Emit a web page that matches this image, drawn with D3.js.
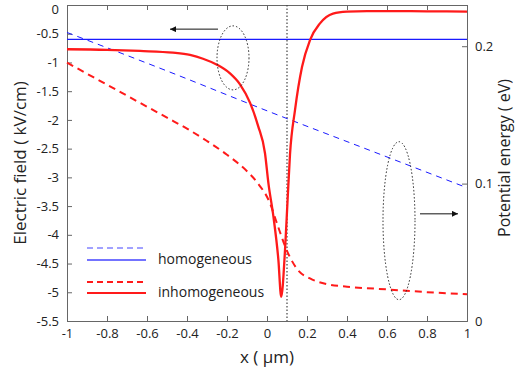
<!DOCTYPE html>
<html>
<head>
<meta charset="utf-8">
<script src="https://cdn.jsdelivr.net/npm/d3@7"></script>
<style>
  body { margin: 0; background: #fff; }
  svg text { font-family: "Open Sans", sans-serif; fill: #222; }
</style>
</head>
<body>
<svg width="516" height="376"></svg>
<script>
// data
var xTicks = [-1, -0.8, -0.6, -0.4, -0.2, 0, 0.2, 0.4, 0.6, 0.8, 1];
var leftTicks = [0, -0.5, -1, -1.5, -2, -2.5, -3, -3.5, -4, -4.5, -5, -5.5];
var rightTicks = [0, 0.1, 0.2];

// electric field (left axis), solid lines
var homField = [[-1, -0.6], [1, -0.6]];
var inhomField = [[-1, -0.77], [-0.8, -0.78], [-0.635, -0.8], [-0.47, -0.83], [-0.385, -0.87], [-0.32, -0.935],
  [-0.25, -1.04], [-0.185, -1.19], [-0.135, -1.38], [-0.085, -1.7], [-0.045, -2.1], [-0.01, -2.58],
  [0.007, -3.1], [0.032, -3.68], [0.057, -4.44], [0.071, -5.08], [0.09, -4.27], [0.103, -3.39],
  [0.115, -2.6], [0.14, -1.83], [0.175, -1.08], [0.215, -0.61], [0.265, -0.32], [0.33, -0.15],
  [0.4, -0.115], [0.5, -0.105], [0.6, -0.105], [0.8, -0.11], [1, -0.115]];

// potential energy (right axis), dashed lines
var homEnergy = [[-1, 0.21], [-0.5, 0.182], [0, 0.153], [0.5, 0.125], [1, 0.097]];
var inhomEnergy = [[-1, 0.188], [-0.9, 0.18], [-0.8, 0.172], [-0.7, 0.164], [-0.6, 0.156], [-0.5, 0.148],
  [-0.4, 0.14], [-0.3, 0.131], [-0.2, 0.121], [-0.1, 0.109], [-0.05, 0.101], [0.015, 0.0857], [0.05, 0.071],
  [0.098, 0.0517], [0.155, 0.037], [0.215, 0.031], [0.3, 0.0268], [0.4, 0.025], [0.6, 0.023], [0.8, 0.021], [1, 0.0195]];

var margin = {top: 5, right: 49, bottom: 55, left: 67},
    width = 516 - margin.left - margin.right,
    height = 376 - margin.top - margin.bottom;

var svg = d3.select("svg")
  .append("g")
  .attr("transform", "translate(" + margin.left + "," + margin.top + ")");

var x = d3.scaleLinear().domain([-1, 1]).range([0, width]);
var yL = d3.scaleLinear().domain([-5.5, 0]).range([height, 0]);
var yR = d3.scaleLinear().domain([0, 0.23]).range([height, 0]);

var axisColor = "#666";
// plain hyphen for minus, like the original
var fmt = function(d) { return String(+d.toFixed(2)); };

// axes, ticks pointing inward
var gx = svg.append("g").attr("transform", "translate(0," + height + ")")
  .call(d3.axisBottom(x).tickValues(xTicks).tickSize(-5).tickPadding(8).tickFormat(fmt));
var gxTop = svg.append("g")
  .call(d3.axisTop(x).tickValues(xTicks).tickSize(-5).tickFormat(""));
var gl = svg.append("g")
  .call(d3.axisLeft(yL).tickValues(leftTicks).tickSize(-5).tickPadding(8).tickFormat(fmt));
var gr = svg.append("g").attr("transform", "translate(" + width + ",0)")
  .call(d3.axisRight(yR).tickValues(rightTicks).tickSize(-5).tickPadding(8).tickFormat(fmt));

[gx, gxTop, gl, gr].forEach(function(g) {
  g.select(".domain").attr("stroke", axisColor);
  g.selectAll(".tick line").attr("stroke", axisColor);
  g.selectAll("text").style("font-size", "13px");
});
gl.select(".tick text").attr("dy", "0.62em");

// vertical dotted line at x = 0.1
svg.append("line")
  .attr("x1", x(0.1)).attr("x2", x(0.1))
  .attr("y1", 0).attr("y2", height)
  .attr("stroke", "#444").attr("stroke-width", 1.2)
  .attr("stroke-dasharray", "1.5,2");

var lineL = d3.line().x(function(d) { return x(d[0]); }).y(function(d) { return yL(d[1]); }).curve(d3.curveMonotoneX);
var lineR = d3.line().x(function(d) { return x(d[0]); }).y(function(d) { return yR(d[1]); }).curve(d3.curveMonotoneX);

svg.append("path").datum(homEnergy).attr("d", lineR)
  .attr("fill", "none").attr("stroke", "#1a1aff").attr("stroke-width", 1).attr("stroke-dasharray", "6,5");
svg.append("path").datum(homField).attr("d", lineL)
  .attr("fill", "none").attr("stroke", "#1a1aff").attr("stroke-width", 1.3);
svg.append("path").datum(inhomEnergy).attr("d", lineR)
  .attr("fill", "none").attr("stroke", "#ff1a1a").attr("stroke-width", 2).attr("stroke-dasharray", "7,5");
svg.append("path").datum(inhomField).attr("d", lineL)
  .attr("fill", "none").attr("stroke", "#ff1a1a").attr("stroke-width", 2.3);

// ellipses and arrows
svg.append("ellipse")
  .attr("cx", x(-0.17)).attr("cy", yL(-0.92)).attr("rx", 16).attr("ry", 32)
  .attr("fill", "none").attr("stroke", "#222").attr("stroke-dasharray", "1.5,2");
svg.append("ellipse")
  .attr("cx", x(0.66)).attr("cy", yR(0.073)).attr("rx", 16).attr("ry", 79)
  .attr("fill", "none").attr("stroke", "#222").attr("stroke-dasharray", "1.5,2");

svg.append("defs").append("marker")
  .attr("id", "ah").attr("viewBox", "0 0 10 10").attr("refX", 10).attr("refY", 5)
  .attr("markerWidth", 9).attr("markerHeight", 6).attr("orient", "auto")
  .append("path").attr("d", "M0,0L10,5L0,10z").attr("fill", "#111");

svg.append("line")
  .attr("x1", x(-0.245)).attr("x2", x(-0.485)).attr("y1", yL(-0.42)).attr("y2", yL(-0.42))
  .attr("stroke", "#111").attr("stroke-width", 1).attr("marker-end", "url(#ah)");
svg.append("line")
  .attr("x1", x(0.765)).attr("x2", x(0.955)).attr("y1", yR(0.078)).attr("y2", yR(0.078))
  .attr("stroke", "#111").attr("stroke-width", 1).attr("marker-end", "url(#ah)");

// legend
var legend = [
  {y: 243, color: "#4444ff", dash: "6,4", w: 1.2},
  {y: 255, color: "#4444ff", dash: null, w: 1.5, label: "homogeneous"},
  {y: 277, color: "#ff1a1a", dash: "6,4", w: 2},
  {y: 288, color: "#ff1a1a", dash: null, w: 2, label: "inhomogeneous"}
];
legend.forEach(function(d) {
  svg.append("line").attr("x1", 20).attr("x2", 79).attr("y1", d.y).attr("y2", d.y)
    .attr("stroke", d.color).attr("stroke-width", d.w).attr("stroke-dasharray", d.dash);
  if (d.label) {
    svg.append("text").attr("x", 91).attr("y", d.y - 1).attr("dy", "0.35em")
      .style("font-size", "14px").text(d.label);
  }
});

// axis titles
svg.append("text")
  .attr("transform", "translate(" + (-47) + "," + (height / 2) + ") rotate(-90)")
  .attr("text-anchor", "middle").attr("dy", "0.35em")
  .style("font-size", "17px").text("Electric field ( kV/cm)");
svg.append("text")
  .attr("transform", "translate(" + (width + 37) + "," + (height / 2 - 5) + ") rotate(-90)")
  .attr("text-anchor", "middle").attr("dy", "0.35em")
  .style("font-size", "16px").text("Potential energy ( eV)");
svg.append("text")
  .attr("x", width / 2).attr("y", height + 36).attr("text-anchor", "middle").attr("dy", "0.35em")
  .style("font-size", "17px").text("x ( μm)");
</script>
</body>
</html>
